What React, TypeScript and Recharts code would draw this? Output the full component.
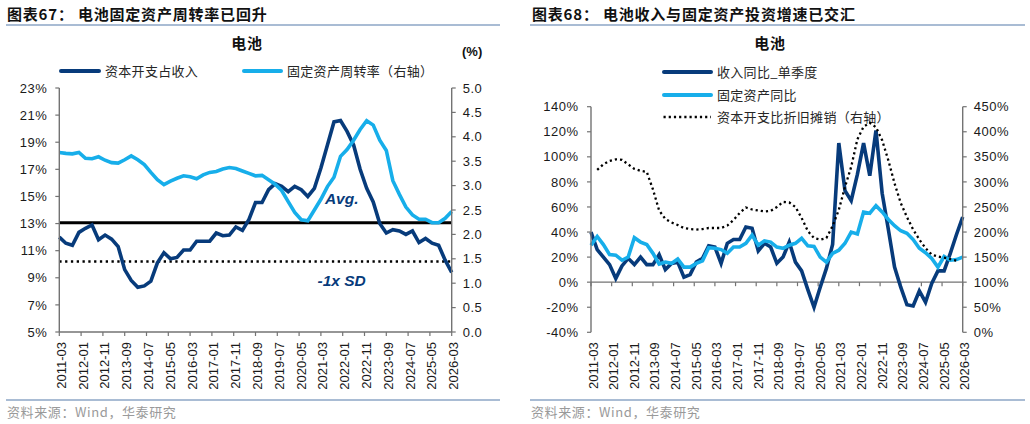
import React from 'react';
import { LineChart, Line, XAxis, YAxis, ReferenceLine } from 'recharts';

const DARK = '#073B7B';
const LIGHT = '#17AEEA';
const AXIS = '#737373';
const RULE = '#A9BCD4';
const SANS = "'Liberation Sans', Arial, 'Noto Sans CJK SC', sans-serif";
const CJK = "'Noto Sans CJK SC', 'Liberation Sans', sans-serif";

// quarter ends from 2011-03 to 2026-03
const quarters: string[] = [];
for (let y = 2011; y <= 2026; y++) {
  for (const mm of ['03', '06', '09', '12']) {
    const q = `${y}-${mm}`;
    if (q <= '2026-03') quarters.push(q);
  }
}

const tickLabels = [
  '2011-03', '2012-01', '2012-11', '2013-09', '2014-07', '2015-05', '2016-03',
  '2017-01', '2017-11', '2018-09', '2019-07', '2020-05', '2021-03', '2022-01',
  '2022-11', '2023-09', '2024-07', '2025-05', '2026-03',
];

// 资本开支占收入 (%)
const capexToRevenue = [
  12.0, 11.55, 11.4, 12.35, 12.65, 12.9, 11.8, 12.15, 11.85, 11.3,
  9.6, 8.8, 8.3, 8.4, 8.75, 10.1, 10.85, 10.4, 10.5, 11.05,
  11.05, 11.7, 11.7, 11.7, 12.3, 12.1, 12.15, 12.75, 12.5, 13.3,
  14.55, 14.55, 15.5, 15.95, 15.75, 15.35, 15.75, 15.5, 15.0, 15.6,
  17.1, 18.8, 20.5, 20.6, 19.8, 18.8, 17.0, 15.6, 14.6, 13.0,
  12.3, 12.55, 12.45, 12.2, 12.45, 11.6, 11.9, 11.55, 11.4, 10.3,
  9.4,
];

// 固定资产周转率 (右轴)
const assetTurnover = [
  3.68, 3.66, 3.65, 3.68, 3.56, 3.55, 3.59, 3.52, 3.47, 3.46,
  3.53, 3.61, 3.53, 3.43, 3.27, 3.12, 3.02, 3.09, 3.15, 3.2,
  3.18, 3.14, 3.22, 3.27, 3.29, 3.34, 3.37, 3.35, 3.3, 3.25,
  3.2, 3.21, 3.12, 3.03, 2.9, 2.67, 2.45, 2.3, 2.28, 2.5,
  2.72, 2.98, 3.17, 3.6, 3.74, 3.93, 4.15, 4.33, 4.24, 3.93,
  3.72, 3.1, 2.82, 2.56, 2.4, 2.31, 2.31, 2.24, 2.24, 2.33,
  2.47,
];

const capexAvg = 13.06;
const capexMinusSd = 10.2;

// 收入同比_单季度 (%)
const revenueYoy = [
  40, 26, 20, 14, 3, 13, 19, 14, 20, 14,
  14, 22, 10, 15, 16, 4, 6, 16, 19, 29,
  28, 15, 31, 34, 34, 44, 43, 25, 31, 28,
  15, 20, 32, 16, 9, -6, -20, -4, 11, 30,
  111, 73, 65, 86, 111, 85, 121, 71, 42, 12,
  -4, -18, -19, -7, -16, -1, 9, 9, 23, 38,
  52,
];

// 固定资产同比 (%)
const fixedAssetYoy = [
  29.5, 36.5, 30, 22, 21.5, 17.5, 20, 35.5, 32, 30,
  23, 14.5, 16, 15, 18.5, 12, 12, 15, 17, 27.5,
  27, 26, 23, 28, 28, 31, 37.5, 29.5, 33, 32,
  28, 27, 29.5, 31, 35, 29, 28.5, 20, 16, 23,
  25.5, 31, 40, 38.5, 56, 55, 61, 56, 50, 45,
  41, 39, 34, 27, 23.5, 19, 12, 20.5, 17.5, 18,
  20,
];

// 资本开支比折旧摊销 (%, 右轴)
const capexToDepreciation = [
  null, 324, 335, 342, 345, 344, 335, 326, 322, 320,
  285, 243, 226, 219, 214, 208, 206, 205, 206, 208,
  208, 208, 213, 224, 238, 249, 245, 243, 241, 242,
  250, 260, 259, 250, 228, 202, 188, 185, 188, 212,
  244, 290, 330, 385, 410, 418, 409, 383, 343, 297,
  258, 230, 205, 185, 168, 155, 151, 149, 146, 143,
  null,
];

const monthIndex = (s: string) => (Number(s.slice(0, 4)) - 2011) * 12 + Number(s.slice(5)) - 3;
const tickMonths = tickLabels.map(monthIndex);
const lastMonth = tickMonths[tickMonths.length - 1];
const labelOf = (m: number) => tickLabels[tickMonths.indexOf(m)] ?? '';

const leftRows = quarters.map((q, i) => ({
  m: monthIndex(q), capex: capexToRevenue[i], turnover: assetTurnover[i],
}));
const rightRows = quarters.map((q, i) => ({
  m: monthIndex(q), revenue: revenueYoy[i], assets: fixedAssetYoy[i], ratio: capexToDepreciation[i],
}));

const tickFont = { fontSize: 13, fill: '#1a1a1a', fontFamily: SANS, letterSpacing: 0.5 };

function MonthTick(props: any) {
  const { x, y, payload } = props;
  return (
    <text
      transform={`translate(${x + 6.5},${y + 4}) rotate(-90)`}
      textAnchor="end"
      fontSize={13}
      fill="#1a1a1a"
      fontFamily={SANS}
    >
      {labelOf(payload.value)}
    </text>
  );
}

// horizontal axis drawn through 0% with its tick marks
function ZeroAxis(props: any) {
  const { x1, y1, x2, y2 } = props;
  const span = x2 - x1;
  return (
    <g>
      <line x1={x1} y1={y1} x2={x2} y2={y2} stroke={AXIS} strokeWidth={1.4} />
      {tickMonths.map((m) => {
        const x = x1 + (m / lastMonth) * span;
        return <line key={m} x1={x} x2={x} y1={y1} y2={y1 + 4} stroke={AXIS} strokeWidth={1.2} />;
      })}
    </g>
  );
}

const refText = (text: string, dy: number) => (p: any) => {
  const vb = p.viewBox;
  return (
    <text
      x={vb.x + vb.width - 110}
      y={vb.y + dy}
      textAnchor="middle"
      fontSize={15.5}
      fontWeight={700}
      fontStyle="italic"
      fill={DARK}
      fontFamily={SANS}
    >
      {text}
    </text>
  );
};

function LegendSwatch({ color, dotted, width }: { color: string; dotted?: boolean; width: number }) {
  return (
    <svg width={width} height={6} style={{ display: 'block' }}>
      <line
        x1={dotted ? 1.5 : 2}
        x2={width - 2}
        y1={3}
        y2={3}
        stroke={color}
        strokeWidth={dotted ? 2.3 : 4}
        strokeLinecap={dotted ? 'butt' : 'round'}
        strokeDasharray={dotted ? '2.2 3' : undefined}
      />
    </svg>
  );
}

function abs(left: number, top: number, extra: React.CSSProperties = {}): React.CSSProperties {
  return { position: 'absolute', left, top, whiteSpace: 'nowrap', ...extra };
}

const legendText: React.CSSProperties = { fontFamily: CJK, fontSize: 13, color: '#262626', letterSpacing: 0.3, lineHeight: '16px' };
const titleText: React.CSSProperties = { fontFamily: CJK, fontSize: 15, fontWeight: 700, color: '#111', lineHeight: '18px', letterSpacing: 0.8 };
const footText: React.CSSProperties = { fontFamily: CJK, fontSize: 13, color: '#9a9a9a', lineHeight: '16px', letterSpacing: 0.6 };

function LegendItem({ x, y, color, dotted, width, label }: { x: number; y: number; color: string; dotted?: boolean; width: number; label: string }) {
  return (
    <>
      <div style={abs(x, y - 3)}><LegendSwatch color={color} dotted={dotted} width={width} /></div>
      <div style={abs(x + width + 4, y - 8, legendText)}>{label}</div>
    </>
  );
}

function TurnoverPanel() {
  return (
    <div style={abs(0, 0, { width: 515, height: 424 })}>
      <div style={abs(7, 5, titleText)}>图表67：&nbsp;电池固定资产周转率已回升</div>
      <div style={abs(6, 24, { width: 494, height: 1.5, background: RULE })} />
      <div style={abs(197, 34, { ...titleText, width: 100, textAlign: 'center' })}>电池</div>
      <div style={abs(462, 44, { fontFamily: SANS, fontSize: 13, fontWeight: 700, color: '#111', lineHeight: '16px' })}>(%)</div>
      <LegendItem x={59} y={71} color={DARK} width={42} label="资本开支占收入" />
      <LegendItem x={242} y={71} color={LIGHT} width={41} label="固定资产周转率（右轴）" />

      <div style={abs(0, 0)}>
        <LineChart width={515} height={424} data={leftRows} margin={{ top: 88, right: 0, bottom: 0, left: 0 }}>
          <XAxis
            dataKey="m"
            type="number"
            domain={[0, lastMonth]}
            ticks={tickMonths}
            interval={0}
            height={92}
            tickSize={4}
            axisLine={{ stroke: AXIS, strokeWidth: 1.4 }}
            tickLine={{ stroke: AXIS, strokeWidth: 1.2 }}
            tick={<MonthTick />}
          />
          <YAxis
            yAxisId="l"
            domain={[5, 23]}
            ticks={[5, 7, 9, 11, 13, 15, 17, 19, 21, 23]}
            width={59.3}
            tickSize={4}
            tickMargin={8}
            tickFormatter={(v: number) => `${v}%`}
            axisLine={{ stroke: AXIS, strokeWidth: 1.4 }}
            tickLine={{ stroke: AXIS, strokeWidth: 1.2 }}
            tick={tickFont}
          />
          <YAxis
            yAxisId="r"
            orientation="right"
            domain={[0, 5]}
            ticks={[0, 0.5, 1, 1.5, 2, 2.5, 3, 3.5, 4, 4.5, 5]}
            width={63.3}
            tickSize={4}
            tickMargin={7}
            tickFormatter={(v: number) => v.toFixed(1)}
            axisLine={{ stroke: AXIS, strokeWidth: 1.4 }}
            tickLine={{ stroke: AXIS, strokeWidth: 1.2 }}
            tick={tickFont}
          />
          <ReferenceLine yAxisId="l" y={capexAvg} stroke="#000" strokeWidth={3} label={refText('Avg.', -19)} />
          <ReferenceLine
            yAxisId="l"
            y={capexMinusSd}
            stroke="#000"
            strokeWidth={2.3}
            strokeDasharray="2.3 3.5"
            label={refText('-1x SD', 24)}
          />
          <Line yAxisId="l" dataKey="capex" stroke={DARK} strokeWidth={3.6} dot={false} isAnimationActive={false} />
          <Line yAxisId="r" dataKey="turnover" stroke={LIGHT} strokeWidth={3.6} dot={false} isAnimationActive={false} />
        </LineChart>
      </div>

      <div style={abs(6, 399, { width: 494, height: 1.5, background: RULE })} />
      <div style={abs(7, 404, footText)}>资料来源：Wind，华泰研究</div>
    </div>
  );
}

function GrowthPanel() {
  return (
    <div style={abs(515, 0, { width: 515, height: 424 })}>
      <div style={abs(17, 5, titleText)}>图表68：&nbsp;电池收入与固定资产投资增速已交汇</div>
      <div style={abs(15, 24, { width: 495, height: 1.5, background: RULE })} />
      <div style={abs(205, 34, { ...titleText, width: 100, textAlign: 'center' })}>电池</div>
      <LegendItem x={147} y={72} color={DARK} width={51} label="收入同比_单季度" />
      <LegendItem x={147} y={94.5} color={LIGHT} width={51} label="固定资产同比" />
      <LegendItem x={147} y={116.5} color="#000" dotted width={51} label="资本开支比折旧摊销（右轴）" />

      <div style={abs(0, 0)}>
        <LineChart width={515} height={424} data={rightRows} margin={{ top: 106.7, right: 0, bottom: 0, left: 0 }}>
          <XAxis
            dataKey="m"
            type="number"
            domain={[0, lastMonth]}
            ticks={tickMonths}
            interval={0}
            height={91.7}
            tickSize={4}
            axisLine={false}
            tickLine={false}
            tick={<MonthTick />}
          />
          <YAxis
            yAxisId="l"
            domain={[-40, 140]}
            ticks={[-40, -20, 0, 20, 40, 60, 80, 100, 120, 140]}
            width={76}
            tickSize={4}
            tickMargin={8.5}
            tickFormatter={(v: number) => `${v}%`}
            axisLine={{ stroke: AXIS, strokeWidth: 1.4 }}
            tickLine={{ stroke: AXIS, strokeWidth: 1.2 }}
            tick={tickFont}
          />
          <YAxis
            yAxisId="r"
            orientation="right"
            domain={[0, 450]}
            ticks={[0, 50, 100, 150, 200, 250, 300, 350, 400, 450]}
            width={67.3}
            tickSize={4}
            tickMargin={7}
            tickFormatter={(v: number) => `${v}%`}
            axisLine={{ stroke: AXIS, strokeWidth: 1.4 }}
            tickLine={{ stroke: AXIS, strokeWidth: 1.2 }}
            tick={tickFont}
          />
          <ReferenceLine yAxisId="l" y={0} shape={ZeroAxis} />
          <Line yAxisId="l" dataKey="revenue" stroke={DARK} strokeWidth={3.6} dot={false} isAnimationActive={false} />
          <Line yAxisId="l" dataKey="assets" stroke={LIGHT} strokeWidth={3.6} dot={false} isAnimationActive={false} />
          <Line
            yAxisId="r"
            dataKey="ratio"
            stroke="#000"
            strokeWidth={2.3}
            strokeDasharray="2.2 3"
            dot={false}
            isAnimationActive={false}
          />
        </LineChart>
      </div>

      <div style={abs(15, 399, { width: 495, height: 1.5, background: RULE })} />
      <div style={abs(16, 404, footText)}>资料来源：Wind，华泰研究</div>
    </div>
  );
}

export default function App() {
  return (
    <div style={{ position: 'relative', width: 1030, height: 424, background: '#fff', overflow: 'hidden' }}>
      <style>{'body{margin:0}'}</style>
      <TurnoverPanel />
      <GrowthPanel />
    </div>
  );
}
